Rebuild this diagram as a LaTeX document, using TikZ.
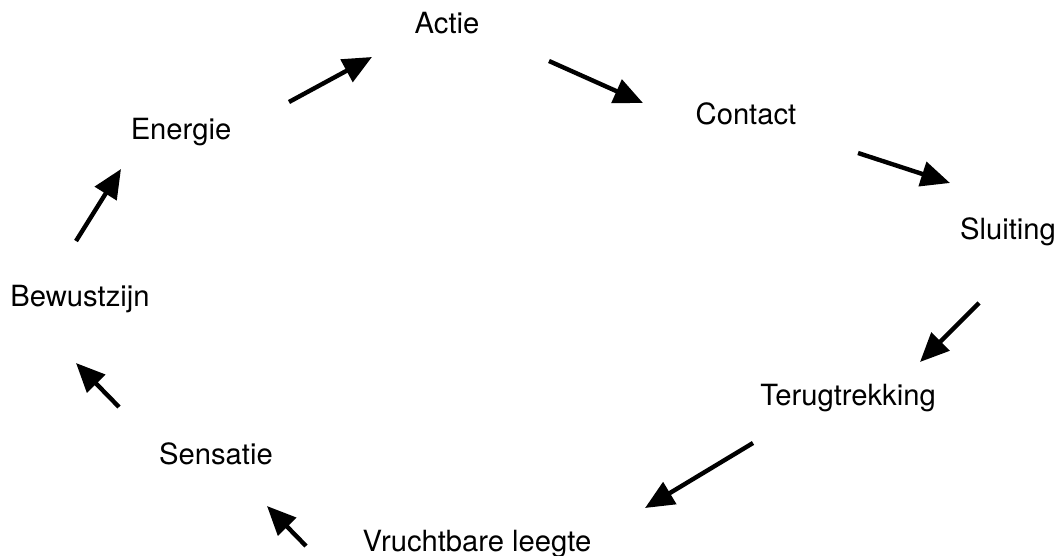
\documentclass[tikz,border=0pt]{standalone}
\usepackage{fontspec}
\setmainfont{TeX Gyre Heros}
\usetikzlibrary{arrows.meta}
\begin{document}
\begin{tikzpicture}[x=0.5pt,y=-0.5pt,
  lbl/.style={anchor=base,inner sep=0pt,font=\fontsize{14.6}{17}\selectfont},
  arr/.style={line width=2.2pt,-{Triangle[length=14.5pt,width=12.5pt]}}]
\useasboundingbox (0,0) rectangle (1060,556);
\node[lbl] (actie) at (447,34) {Actie};
\node[lbl] (contact) at (746,125) {Contact};
\node[lbl] (sluiting) at (1008,239) {Sluiting};
\node[lbl] (terug) at (848,405) {Terugtrekking};
\node[lbl] (vrucht) at (477,551) {Vruchtbare leegte};
\node[lbl] (sensatie) at (216,464) {Sensatie};
\node[lbl] (bewust) at (80,306) {Bewustzijn};
\node[lbl] (energie) at (181,140) {Energie};
\coordinate (ea1) at (289,102); \coordinate (ea2) at (372,57);
\coordinate (ac1) at (549,61); \coordinate (ac2) at (643,103);
\coordinate (cs1) at (858,153); \coordinate (cs2) at (950,183);
\coordinate (st1) at (979,303); \coordinate (st2) at (920,362);
\coordinate (tv1) at (753,443); \coordinate (tv2) at (645,508);
\coordinate (vs1) at (306,546); \coordinate (vs2) at (267,506);
\coordinate (sb1) at (119,407); \coordinate (sb2) at (76,363);
\coordinate (be1) at (76,241); \coordinate (be2) at (121,169);
\draw[arr] (ea1) -- (ea2);
\draw[arr] (ac1) -- (ac2);
\draw[arr] (cs1) -- (cs2);
\draw[arr] (st1) -- (st2);
\draw[arr] (tv1) -- (tv2);
\draw[arr] (vs1) -- (vs2);
\draw[arr] (sb1) -- (sb2);
\draw[arr] (be1) -- (be2);
\end{tikzpicture}
\end{document}
